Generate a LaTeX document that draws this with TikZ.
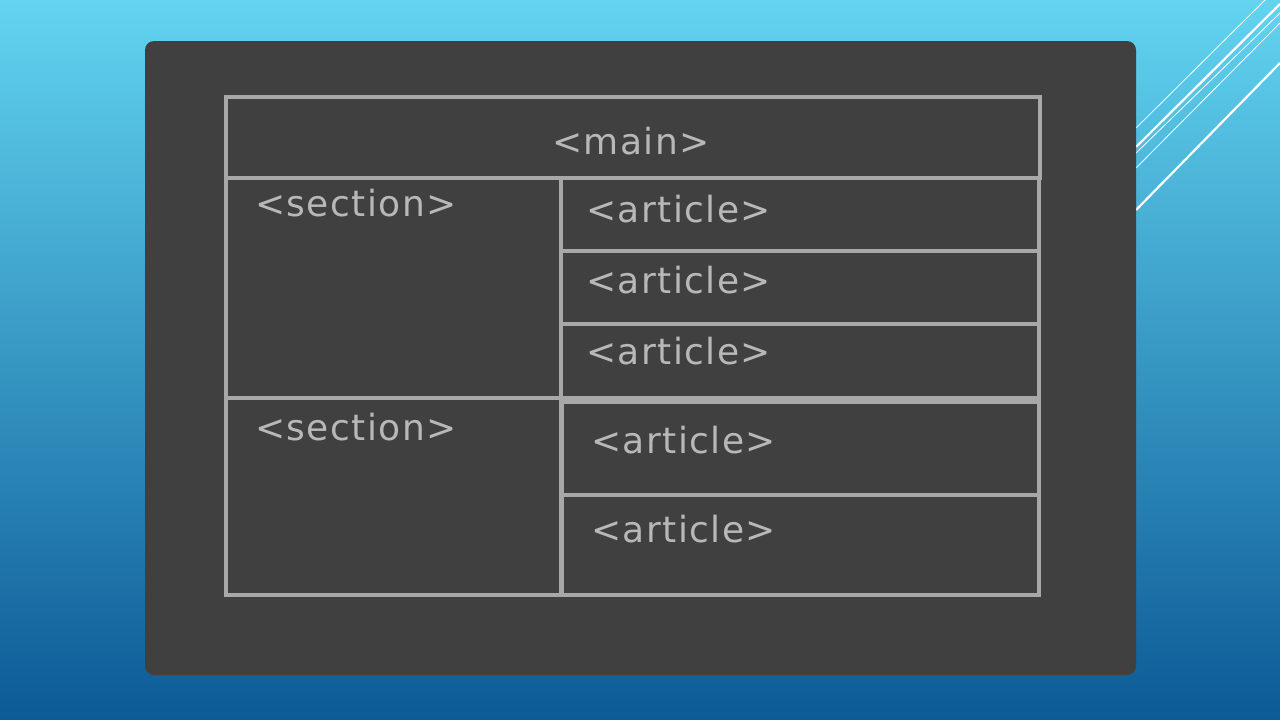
\documentclass[tikz,border=0pt]{standalone}
\usepackage{fontspec}
\setmainfont{DejaVu Sans}
\newfontfamily\chalkfont[LetterSpace=4]{DejaVu Sans}
\usetikzlibrary{positioning}
\definecolor{skytop}{HTML}{62D4F0}
\definecolor{skymid}{HTML}{36A4D2}
\definecolor{skybot}{HTML}{0C5A96}
\definecolor{board}{HTML}{404040}
\definecolor{chalk}{HTML}{A8A8A8}
\definecolor{chalktext}{HTML}{B8B8B8}

\begin{document}
\begin{tikzpicture}[x=1pt, y=-1pt,
		frame/.style={draw=chalk, line width=3.2pt, inner sep=0pt, outer sep=0pt, anchor=north west},
		tag/.style={text=chalktext, font=\chalkfont\fontsize{36}{36}\selectfont, inner sep=0pt, anchor=base west},
		streak/.style={draw=white, line width=0.8pt},
		boldstreak/.style={draw=white, line width=2.2pt}]
	\useasboundingbox (0,0) rectangle (1280,720);
	\shade [top color=skytop, middle color=skymid, bottom color=skybot] (0,0) rectangle (1280,720);

	% streaks top right
	\draw [streak] (1136,128) -- (1265,0);
	\draw [boldstreak] (1136,147) -- (1280,4);
	\draw [streak] (1136,153) -- (1280,13);
	\draw [streak] (1136,168) -- (1280,23);
	\draw [boldstreak] (1136,210) -- (1280,63);

	\fill [board, rounded corners=9pt] (145,41) rectangle (1136,675);

	% boxes
	\node (mainbox) [frame, minimum width=814, minimum height=81] at (226,97) {};
	\node (sectiona) [frame, minimum width=335, minimum height=220] at (226,178) {};
	\node (sectionb) [frame, minimum width=335, minimum height=197] at (226,398) {};
	\node (articlea) [frame, minimum width=478, minimum height=73] at (561,178) {};
	\node (articleb) [frame, minimum width=478, minimum height=73] at (561,251) {};
	\node (articlec) [frame, minimum width=478, minimum height=74] at (561,324) {};
	\node (articled) [frame, minimum width=477, minimum height=93] at (562,402) {};
	\node (articlee) [frame, minimum width=477, minimum height=100] at (562,495) {};

	% labels
	\node (maintag) [tag, anchor=base] at (631,154) {<main>};
	\node (sectionatag) [tag] at (255,216) {<section>};
	\node (sectionbtag) [tag] at (255,440) {<section>};
	\node (articleatag) [tag] at (586,222) {<article>};
	\node (articlebtag) [tag] at (586,293) {<article>};
	\node (articlectag) [tag] at (586,364) {<article>};
	\node (articledtag) [tag] at (591,453) {<article>};
	\node (articleetag) [tag] at (591,542) {<article>};
\end{tikzpicture}
\end{document}
